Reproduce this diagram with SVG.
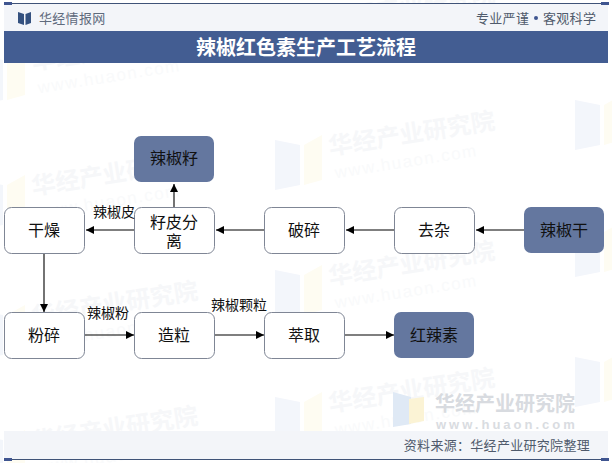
<svg xmlns="http://www.w3.org/2000/svg" width="612" height="463" viewBox="0 0 612 463">
<style>
text{font-family:"Noto Sans CJK SC","Liberation Sans",sans-serif}
.n{fill:#fff;stroke:#7f8695;stroke-width:1}
.d{fill:#64779f;stroke:none}
.t{font-size:16px;fill:#111;text-anchor:middle}
.l{font-size:14px;fill:#111;text-anchor:middle}
.c{fill:none;stroke:#000;stroke-width:1.1;marker-end:url(#a)}
.wm{font-size:24px;font-weight:700;fill:#f6f7f9}
.wu{font-size:17px;fill:#f9fafb;letter-spacing:1.500px;font-family:"Liberation Sans",sans-serif}
.b1{fill:#f3f6fb}.b2{fill:#fefcf2}
</style>
<defs>
<marker id="a" markerUnits="userSpaceOnUse" markerWidth="10" markerHeight="10" refX="8" refY="4.500" orient="auto"><path d="M0 0.500L8 4.500L0 8.500Z" fill="#000"/></marker>
<g id="lg">
<path class="b1" d="M-55 -15L-30 -10V30L-55 35Z"/>
<path class="b2" d="M-26 -10L-8 -20V25L-26 30Z"/>
</g>
<g id="wmk">
<use href="#lg"/>
<g transform="rotate(-9)">
<text class="wm" x="0" y="0">华经产业研究院</text>
<text class="wu" x="2" y="24">www.huaon.com</text>
</g>
</g>
</defs>
<rect width="612" height="463" fill="#fff"/>
<g id="watermarks">
<use href="#wmk" x="33" y="70"/>
<use href="#wmk" x="330" y="28"/>
<use href="#wmk" x="33" y="195"/>
<use href="#wmk" x="330" y="155"/>
<use href="#wmk" x="33" y="325"/>
<use href="#wmk" x="330" y="285"/>
<use href="#wmk" x="33" y="450"/>
<use href="#wmk" x="330" y="412"/>
<use href="#lg" x="630" y="115"/>
<use href="#lg" x="630" y="242"/>
<use href="#lg" x="630" y="372"/>
</g>
<g id="header">
<rect x="4" y="4" width="604" height="27" fill="#f3f5f9"/>
<rect x="4" y="31" width="604" height="32" fill="#435d92"/>
<path d="M4 3.500H608" stroke="#3f5378" stroke-width="1"/>
<rect x="4" y="2" width="8" height="3" fill="#3f5590"/>
<rect x="601" y="2" width="8" height="3" fill="#3f5590"/>
<path d="M18 12L24 14V25L18 23ZM31 12L25.500 14V25L31 23Z" fill="#34517f"/>
<text x="39" y="23" font-size="13" letter-spacing="0.300" fill="#5f6b7d">华经情报网</text>
<text x="476" y="23" font-size="13" letter-spacing="0.300" fill="#505b6c">专业严谨</text>
<circle cx="536" cy="18" r="2" fill="#3f5590"/>
<text x="543" y="23" font-size="13" letter-spacing="0.300" fill="#505b6c">客观科学</text>
<text x="306" y="55" font-size="20" font-weight="700" fill="#fff" text-anchor="middle">辣椒红色素生产工艺流程</text>
</g>
<g id="logo">
<path d="M393 392L411 397V424L393 427Z" fill="#dfe9f5"/>
<path d="M409 399L424 397V421L409 424Z" fill="#fbf3d5"/>
<text x="435" y="411" font-size="20" font-weight="700" fill="#d8dbe0">华经产业研究院</text>
<text x="436" y="429" font-size="13" font-weight="700" fill="#d9dce1" letter-spacing="3" style="font-family:'Liberation Sans',sans-serif">www.huaon.com</text>
</g>
<g id="footer">
<rect x="4" y="431" width="604" height="28" fill="#f3f5f9"/>
<path d="M4 459.500H608" stroke="#3f5378" stroke-width="1"/>
<rect x="4" y="458" width="8" height="3" fill="#3f5590"/>
<rect x="601" y="458" width="8" height="3" fill="#3f5590"/>
<text x="590" y="450" font-size="13" letter-spacing="0.300" fill="#505b6c" text-anchor="end">资料来源：华经产业研究院整理</text>
</g>
<g id="connectors">
<path class="c" d="M174 207V184"/>
<path class="c" d="M134 230H86"/>
<path class="c" d="M264 230H216"/>
<path class="c" d="M394 230H346"/>
<path class="c" d="M524 230H476"/>
<path class="c" d="M44 253V312"/>
<path class="c" d="M84 335H134"/>
<path class="c" d="M214 335H264"/>
<path class="c" d="M344 335H394"/>
</g>
<g id="n1"><rect class="d" x="134" y="136" width="80" height="46" rx="7"/><text class="t" x="174" y="164">辣椒籽</text></g>
<g id="n2"><rect class="n" x="4.500" y="207.500" width="80" height="46" rx="7"/><text class="t" x="44" y="236">干燥</text></g>
<g id="n3"><rect class="n" x="134.500" y="207.500" width="80" height="46" rx="7"/><text class="t" x="174" y="228">籽皮分</text><text class="t" x="174" y="247">离</text></g>
<g id="n4"><rect class="n" x="264.500" y="207.500" width="80" height="46" rx="7"/><text class="t" x="304" y="236">破碎</text></g>
<g id="n5"><rect class="n" x="394.500" y="207.500" width="80" height="46" rx="7"/><text class="t" x="434" y="236">去杂</text></g>
<g id="n6"><rect class="d" x="524" y="207" width="80" height="46" rx="7"/><text class="t" x="564" y="236">辣椒干</text></g>
<g id="n7"><rect class="n" x="4.500" y="312.500" width="80" height="46" rx="7"/><text class="t" x="44" y="341">粉碎</text></g>
<g id="n8"><rect class="n" x="134.500" y="312.500" width="80" height="46" rx="7"/><text class="t" x="174" y="341">造粒</text></g>
<g id="n9"><rect class="n" x="264.500" y="312.500" width="80" height="46" rx="7"/><text class="t" x="304" y="341">萃取</text></g>
<g id="n10"><rect class="d" x="394" y="312" width="80" height="46" rx="7"/><text class="t" x="434" y="341">红辣素</text></g>
<g id="labels">
<text class="l" x="114" y="217">辣椒皮</text>
<text class="l" x="108" y="318">辣椒粉</text>
<text class="l" x="239" y="310">辣椒颗粒</text>
</g>
</svg>
